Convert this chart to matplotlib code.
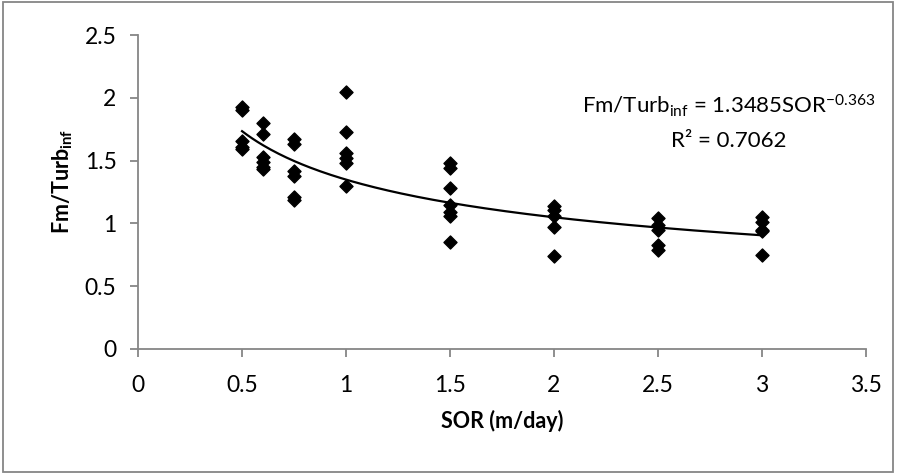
import numpy as np
import matplotlib
matplotlib.use("Agg")
import matplotlib.pyplot as plt
from matplotlib.patches import Rectangle

plt.rcParams['font.family'] = ['Lato', 'DejaVu Sans']
plt.rcParams['mathtext.default'] = 'regular'

sor = [0.5, 0.5, 0.5, 0.5, 0.5,
       0.6, 0.6, 0.6, 0.6, 0.6, 0.6,
       0.75, 0.75, 0.75, 0.75, 0.75, 0.75,
       1.0, 1.0, 1.0, 1.0, 1.0, 1.0,
       1.5, 1.5, 1.5, 1.5, 1.5, 1.5, 1.5,
       2.0, 2.0, 2.0, 2.0, 2.0,
       2.5, 2.5, 2.5, 2.5, 2.5,
       3.0, 3.0, 3.0, 3.0, 3.0]
ratio = [1.93, 1.90, 1.66, 1.61, 1.59,
         1.80, 1.71, 1.53, 1.49, 1.45, 1.43,
         1.67, 1.63, 1.42, 1.38, 1.21, 1.19,
         2.05, 1.73, 1.56, 1.52, 1.48, 1.30,
         1.48, 1.44, 1.28, 1.15, 1.09, 1.06, 0.85,
         1.14, 1.11, 1.06, 0.97, 0.74,
         1.04, 0.99, 0.95, 0.83, 0.79,
         1.05, 1.01, 0.95, 0.94, 0.75]
coef = 1.3485
expo = -0.363

fig = plt.figure(figsize=(8.97, 4.74), dpi=100)
ax = fig.add_axes([0.154, 0.264, 0.811, 0.662])

ax.scatter(sor, ratio, marker='D', s=44, color='black', zorder=3)
xs = np.linspace(0.5, 3.0, 200)
ax.plot(xs, coef * xs ** expo, color='black', lw=1.6)

ax.set_xlim(0, 3.5)
ax.set_ylim(0, 2.5)
ax.set_xticks(np.arange(0, 3.51, 0.5))
ax.set_yticks(np.arange(0, 2.51, 0.5))
ax.set_xticklabels(['0', '0.5', '1', '1.5', '2', '2.5', '3', '3.5'])
ax.set_yticklabels(['0', '0.5', '1', '1.5', '2', '2.5'])
for s in ['top', 'right']:
    ax.spines[s].set_visible(False)
for s in ['left', 'bottom']:
    ax.spines[s].set_color('#868686')
    ax.spines[s].set_linewidth(1.3)
ax.tick_params(colors='#868686', labelcolor='black', labelsize=16.5, length=5.5, width=1.3)
ax.tick_params(axis='x', pad=13)
ax.tick_params(axis='y', pad=10)

ax.set_xlabel('SOR (m/day)', fontsize=15.5, fontweight='bold', labelpad=10)
ax.set_ylabel('Fm/Turb$_{inf}$', fontsize=15.5, fontweight='bold', labelpad=7)
ax.yaxis.label.set_y(0.535)

ax.text(2.84, 1.935, 'Fm/Turb$_{inf}$ = 1.3485SOR$^{-0.363}$', fontsize=16, ha='center', va='center')
ax.text(2.84, 1.655, 'R² = 0.7062', fontsize=16, ha='center', va='center')

fig.patches.append(Rectangle((0.003, 0.005), 0.993, 0.99, transform=fig.transFigure,
                             fill=False, edgecolor='#868686', lw=1.3))

fig.savefig('out.png', dpi=100)
